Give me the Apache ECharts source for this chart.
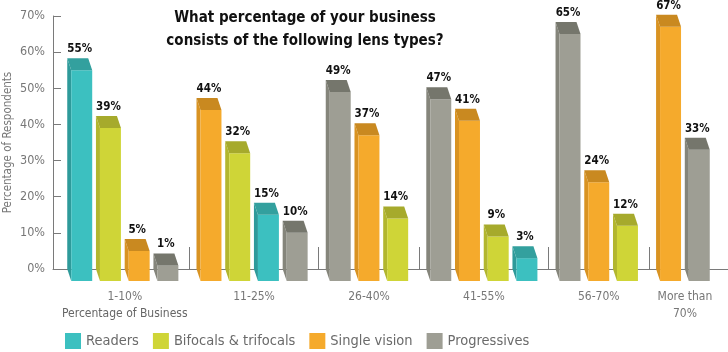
<!DOCTYPE html>
<html><head><meta charset="utf-8">
<script src="https://cdn.jsdelivr.net/npm/echarts@6/dist/echarts.min.js"></script>
<style>html,body{margin:0;padding:0;background:#fff}#c{width:728px;height:352px}</style>
</head><body><div id="c"></div>
<script>
var categories = ['1-10%', '11-25%', '26-40%', '41-55%', '56-70%', 'More than\n70%'];
var seriesNames = ['Readers', 'Bifocals & trifocals', 'Single vision', 'Progressives'];
var readers = [55, 15, null, 3, null, null];
var bifocals = [39, 32, 14, 9, 12, null];
var singleVision = [5, 44, 37, 41, 24, 67];
var progressives = [1, 10, 49, 47, 65, 33];
var yTicks = [0, 10, 20, 30, 40, 50, 60, 70];

var values = [readers, bifocals, singleVision, progressives];
var fronts = ['#3cc0c0', '#cfd537', '#f5aa2c', '#9e9e94'];
var tops = ['#33a09e', '#a6aa2c', '#c98920', '#75766c'];
var sides = ['#2e9a9a', '#b2b62e', '#d99322', '#85857b'];
var FONT = '"DejaVu Sans Condensed", sans-serif';

var groupStart = [], groupCount = [], pos = [[], [], [], []];
var start = 0;
categories.forEach(function (c, g) {
  var items = [];
  values.forEach(function (arr, s) { if (arr[g] != null) items.push({ s: s, v: arr[g] }); });
  items.sort(function (a, b) { return b.v - a.v; });
  groupStart.push(start); groupCount.push(items.length);
  items.forEach(function (it, r) { pos[it.s][g] = start + r; });
  start += items.length + 0.5;
});
var xMax = start - 0.5;
var labelCenters = groupStart.map(function (s, g) { return s + (groupCount[g] - 1) / 2; });
var separators = groupStart.slice(1).map(function (s) { return s - 0.75; });

function renderBar(si) {
  return function (params, api) {
    var x = api.value(0), v = api.value(1);
    var p = api.coord([x, v]), b = api.coord([x, 0]);
    var w = api.size([1, 0])[0] * 0.73;
    var dx = 4, dy = 12;
    var L = p[0] - w / 2, R = p[0] + w / 2;
    return {
      type: 'group',
      children: [
        { type: 'polygon', shape: { points: [[L, p[1]], [L - dx, p[1] - dy], [L - dx, b[1]], [L, b[1] + dy]] }, style: { fill: sides[si] } },
        { type: 'rect', shape: { x: L, y: p[1], width: w, height: b[1] + dy - p[1] }, style: { fill: fronts[si] } },
        { type: 'polygon', shape: { points: [[L, p[1]], [R, p[1]], [R - dx, p[1] - dy], [L - dx, p[1] - dy]] }, style: { fill: tops[si] } },
        { type: 'text', x: p[0] - 2, y: p[1] - dy - 9, style: { text: v + '%', align: 'center', verticalAlign: 'middle', font: 'bold 11.5px ' + FONT, fill: '#111' } }
      ]
    };
  };
}

var series = seriesNames.map(function (name, si) {
  var data = [];
  values[si].forEach(function (v, g) { if (v != null) data.push([pos[si][g], v]); });
  return {
    name: name, type: 'custom', renderItem: renderBar(si), data: data,
    itemStyle: { color: fronts[si] }, clip: false, z: 3
  };
});

var chart = echarts.init(document.getElementById('c'));
chart.setOption({
  animation: false,
  grid: { left: 53, right: 0, top: 16, bottom: 83, outerBoundsMode: 'none', containLabel: false },
  graphic: [{
    type: 'text', x: 305, y: 7,
    style: { text: 'What percentage of your business\nconsists of the following lens types?', align: 'center',
      font: 'bold 15px ' + FONT, lineHeight: 23, fill: '#111' }
  }],
  legend: {
    left: 60, top: 328, icon: 'rect', itemWidth: 16, itemHeight: 16, itemGap: 14,
    textStyle: { color: '#6a6a6a', fontSize: 14.5, fontFamily: FONT },
    data: seriesNames
  },
  xAxis: {
    type: 'value', min: -1, max: xMax, splitLine: { show: false },
    axisLine: { show: true, onZero: false, lineStyle: { color: '#7a7a7a', width: 1 } },
    axisTick: { show: true, inside: true, length: 22, customValues: separators, lineStyle: { color: '#7a7a7a' } },
    axisLabel: {
      customValues: labelCenters, margin: 19, color: '#777', fontSize: 12, fontFamily: FONT, lineHeight: 17,
      formatter: function (val) {
        var g = labelCenters.indexOf(val);
        if (g < 0) return '';
        return g === 0 ? categories[0] + '\n{b|Percentage of Business}' : categories[g];
      },
      rich: { b: { color: '#666', fontSize: 12, fontFamily: FONT, lineHeight: 17 } }
    }
  },
  yAxis: {
    type: 'value', min: 0, max: 70, interval: 10,
    name: 'Percentage of Respondents', nameLocation: 'middle', nameGap: 45, nameMoveOverlap: false,
    nameTextStyle: { color: '#777', fontSize: 11.5, fontFamily: FONT, verticalAlign: 'middle' },
    axisLine: { show: true, onZero: false, lineStyle: { color: '#7a7a7a' } },
    axisTick: { show: true, inside: true, length: 8, lineStyle: { color: '#7a7a7a' } },
    axisLabel: { margin: 8, color: '#777', fontSize: 12.5, fontFamily: FONT, formatter: function (v) { return yTicks.indexOf(v) >= 0 ? v + '%' : ''; } },
    splitLine: { show: false }
  },
  series: series
});
</script></body></html>
